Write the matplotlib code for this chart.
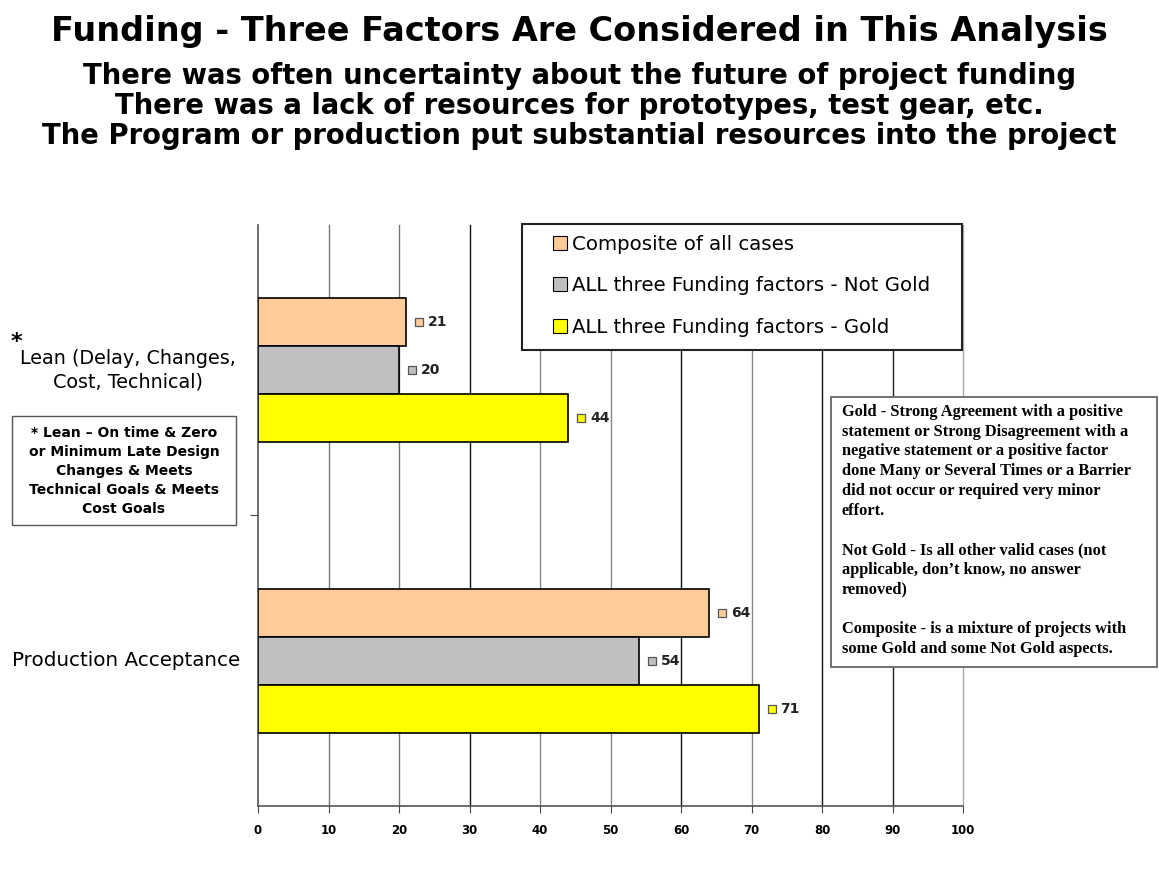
import matplotlib.pyplot as plt
import matplotlib.transforms as mtransforms
from matplotlib.patches import Rectangle
import numpy as np

# data
categories = ['Lean', 'Production Acceptance']
series_names = ['Composite of all cases',
                'ALL three Funding factors - Not Gold',
                'ALL three Funding factors - Gold']
composite = [21, 64]
not_gold = [20, 54]
gold = [44, 71]
x_ticks = [0, 10, 20, 30, 40, 50, 60, 70, 80, 90, 100]

colors = ['#FFCC99', '#C0C0C0', '#FFFF00']
sans = ['DejaVu Sans']
serif = ['Liberation Serif', 'DejaVu Serif']

W, H = 1159, 888
fig = plt.figure(figsize=(W / 100, H / 100), dpi=100)
ax = fig.add_axes([258 / W, 1 - 806 / H, 705 / W, 581 / H])


def fig_box(x0, y0, x1, y1, ec, lw, z):
    # pixel coords (top-left origin) -> figure rectangle
    r = Rectangle((x0 / W, 1 - y1 / H), (x1 - x0) / W, (y1 - y0) / H,
                  transform=fig.transFigure, fc='white', ec=ec, lw=lw, zorder=z)
    fig.add_artist(r)


######################################## bars
ypos = np.arange(len(categories))
h = 0.165
all_series = [composite, not_gold, gold]
handles = []
for i, vals in enumerate(all_series):
    offs = (i - 1) * h
    b = ax.barh(ypos + offs, vals, height=h, color=colors[i], edgecolor='black',
                linewidth=1.2, zorder=3, label=series_names[i])
    handles.append(b)
    for j, v in enumerate(vals):
        ax.plot(v + 1.85, ypos[j] + offs, marker='s', ms=6, mfc=colors[i],
                mec='#555555', mew=0.9, zorder=4, clip_on=False)
        ax.text(v + 3.1, ypos[j] + offs, str(v), va='center', ha='left',
                fontsize=10, fontweight='bold', family=sans, color='#222222', zorder=4)

ax.set_xlim(0, 100)
ax.set_ylim(1.5, -0.5)
ax.set_xticks(x_ticks)
ax.set_xticklabels([str(t) for t in x_ticks], family=sans, fontsize=8.5, fontweight='bold')
ax.set_yticks([0.5])
ax.set_yticklabels([''])
ax.tick_params(axis='x', length=5, direction='out', pad=8, color='#444444')
ax.tick_params(axis='y', length=6, direction='out', color='#444444')

# gridlines (darker / lighter as they come out in the picture)
grid_cols = ['#555555', '#777777', '#777777', '#111111', '#888888', '#888888',
             '#111111', '#888888', '#111111', '#222222', '#AAAAAA']
for t, c in zip(x_ticks[1:], grid_cols[1:]):
    ax.axvline(t, color=c, linewidth=1.0, zorder=0, clip_on=False)
for s in ['top', 'right']:
    ax.spines[s].set_visible(False)
for s in ['left', 'bottom']:
    ax.spines[s].set_color('#555555')
    ax.spines[s].set_linewidth(1.2)

######################################## legend
fig_box(522, 224, 962, 350, '#222222', 1.5, 2)
leg = fig.legend(handles=handles, labels=series_names, loc='upper left',
                 bbox_to_anchor=(553 / W, 1 - 235 / H), frameon=False,
                 handlelength=0.7, handleheight=0.7, handletextpad=0.25,
                 labelspacing=1.13, borderpad=0, borderaxespad=0,
                 prop={'family': sans, 'size': 14.2})
leg.set_zorder(5)
for p in leg.get_patches():
    p.set_linewidth(0.8)

######################################## category labels
tr = mtransforms.blended_transform_factory(fig.transFigure, ax.transData)
fig.text(128 / W, 0.0, 'Lean (Delay, Changes,\nCost, Technical)', transform=tr,
         ha='center', va='center', fontsize=13.8, family=sans, linespacing=1.25)
fig.text(11 / W, 1 - 342 / H, '*', ha='left', va='center',
         fontsize=16, fontweight='bold', family=sans)
fig.text(12 / W, 1.0, 'Production Acceptance', transform=tr, ha='left',
         va='center', fontsize=14.3, family=sans)

######################################## note boxes
fig_box(12, 416, 236, 525, '#555555', 1.0, 2)
fig.text(124 / W, 1 - 471 / H, '* Lean \u2013 On time & Zero\nor Minimum Late Design\nChanges & Meets\n'
         'Technical Goals & Meets\nCost Goals', ha='center', va='center',
         fontsize=10, fontweight='bold', family=sans, linespacing=1.45, zorder=3)

notes = ('Gold - Strong Agreement with a positive\n'
         'statement or Strong Disagreement with a\n'
         'negative statement or a positive factor\n'
         'done Many or Several Times or a Barrier\n'
         'did not occur or required very minor\n'
         'effort.\n\n'
         'Not Gold - Is all other valid cases (not\n'
         'applicable, don\u2019t know, no answer\n'
         'removed)\n\n'
         'Composite - is a mixture of projects with\n'
         'some Gold and some Not Gold aspects.')
fig_box(831, 397, 1157, 667, '#666666', 1.3, 2)
fig.text(842 / W, 1 - 404 / H, notes, ha='left', va='top', fontsize=11.8,
         fontweight='bold', family=serif, linespacing=1.31, zorder=3)

######################################## titles
fig.text(0.5, 1 - 31 / H, 'Funding - Three Factors Are Considered in This Analysis',
         ha='center', va='center', fontsize=24.1, fontweight='bold', family=sans)
subs = ['There was often uncertainty about the future of project funding',
        'There was a lack of resources for prototypes, test gear, etc.',
        'The Program or production put substantial resources into the project']
for k, s in enumerate(subs):
    fig.text(0.5, 1 - (76 + 30 * k) / H, s, ha='center', va='center',
             fontsize=19.8, fontweight='bold', family=sans)

fig.savefig('out.png', dpi=100)
